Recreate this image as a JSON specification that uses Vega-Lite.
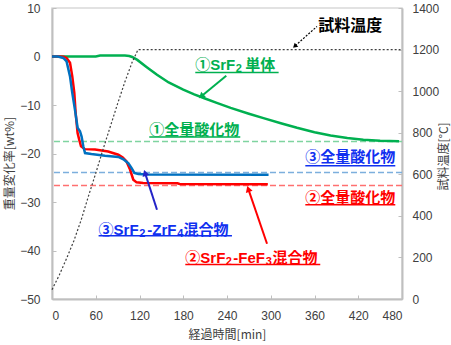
{
"$schema":"https://vega.github.io/schema/vega-lite/v6.json",
"width":350,"height":291,
"autosize":{"type":"none"},
"padding":{"left":52,"top":8,"right":49,"bottom":46},
"config":{
 "font":"Noto Sans CJK JP",
 "view":{"stroke":"#d9d9d9","strokeWidth":1.5},
 "axis":{"grid":false,"domainColor":"#bfbfbf","domainWidth":2,"tickColor":"#bfbfbf","tickWidth":1,"tickSize":-4,"labelFont":"Liberation Sans","labelFontSize":12,"labelColor":"#404040","labelPadding":14,"titleFont":"Noto Sans CJK JP","titleFontSize":12,"titleFontWeight":"normal","titleColor":"#404040"}
},
"datasets":{
 "tg":[
  {"s":"①","t":0,"w":0},{"s":"①","t":30,"w":0},{"s":"①","t":60,"w":0},{"s":"①","t":66,"w":0.2},{"s":"①","t":100,"w":0.2},{"s":"①","t":106,"w":0.1},{"s":"①","t":110,"w":-0.1},{"s":"①","t":117,"w":-0.7},{"s":"①","t":130,"w":-2.2},{"s":"①","t":144,"w":-3.75},{"s":"①","t":160,"w":-5.35},{"s":"①","t":180,"w":-6.85},{"s":"①","t":195,"w":-7.8},{"s":"①","t":208,"w":-8.56},{"s":"①","t":225,"w":-9.5},{"s":"①","t":245,"w":-10.6},{"s":"①","t":270,"w":-11.8},{"s":"①","t":290,"w":-12.7},{"s":"①","t":315,"w":-13.8},{"s":"①","t":336,"w":-14.7},{"s":"①","t":360,"w":-15.6},{"s":"①","t":382,"w":-16.3},{"s":"①","t":405,"w":-16.8},{"s":"①","t":427,"w":-17.15},{"s":"①","t":450,"w":-17.35},{"s":"①","t":476,"w":-17.45},
  {"s":"②","t":0,"w":0},{"s":"②","t":10,"w":0},{"s":"②","t":16,"w":-0.05},{"s":"②","t":20,"w":-0.3},{"s":"②","t":24.7,"w":-1.3},{"s":"②","t":27.8,"w":-4.1},{"s":"②","t":30.6,"w":-7.5},{"s":"②","t":32.4,"w":-11.6},{"s":"②","t":35.1,"w":-15.8},{"s":"②","t":37.4,"w":-17.2},{"s":"②","t":39.8,"w":-18.5},{"s":"②","t":45,"w":-19.1},{"s":"②","t":59,"w":-19.2},{"s":"②","t":77,"w":-19.6},{"s":"②","t":91,"w":-20.25},{"s":"②","t":97,"w":-20.8},{"s":"②","t":102,"w":-21.6},{"s":"②","t":107,"w":-23.3},{"s":"②","t":111.5,"w":-25.4},{"s":"②","t":116,"w":-25.95},{"s":"②","t":125,"w":-26.1},{"s":"②","t":172,"w":-26.15},{"s":"②","t":175,"w":-26.3},{"s":"②","t":296,"w":-26.35},
  {"s":"③","t":0,"w":0},{"s":"③","t":8,"w":0},{"s":"③","t":15.5,"w":-0.3},{"s":"③","t":20,"w":-1.0},{"s":"③","t":24.7,"w":-4.1},{"s":"③","t":27.8,"w":-7.5},{"s":"③","t":31.5,"w":-11},{"s":"③","t":35.1,"w":-14.7},{"s":"③","t":38.4,"w":-15.4},{"s":"③","t":40.6,"w":-16.5},{"s":"③","t":42.9,"w":-18.5},{"s":"③","t":45.3,"w":-19.9},{"s":"③","t":54,"w":-20.1},{"s":"③","t":72.7,"w":-20.45},{"s":"③","t":91,"w":-20.7},{"s":"③","t":98,"w":-21.2},{"s":"③","t":104.6,"w":-22},{"s":"③","t":109.2,"w":-23},{"s":"③","t":112.9,"w":-24},{"s":"③","t":118.4,"w":-24.25},{"s":"③","t":130,"w":-24.35},{"s":"③","t":297,"w":-24.4}
 ],
 "temp":[
  {"t":0,"T":45},{"t":10,"T":115},{"t":20,"T":195},{"t":30,"T":280},{"t":40,"T":380},{"t":50,"T":495},{"t":60,"T":605},{"t":70,"T":720},{"t":80,"T":830},{"t":90,"T":940},{"t":100,"T":1045},{"t":110,"T":1140},{"t":118,"T":1200},{"t":478,"T":1200}
 ],
 "refs":[{"s":"①","w":-17.5},{"s":"②","w":-26.6},{"s":"③","w":-23.9}],
 "ulines":[
  {"s":"①","t":196.5,"t2":310.8,"w":-3.28},
  {"s":"①","t":133.4,"t2":258.2,"w":-16.6},
  {"s":"③","t":347.4,"t2":470.8,"w":-22.5},
  {"s":"②","t":347.4,"t2":470.8,"w":-30.56},
  {"s":"③","t":63.9,"t2":246.8,"w":-36.95},
  {"s":"②","t":182.8,"t2":367.9,"w":-42.9}
 ],
 "texts":[
  {"s":"①","label":"①SrF","t":196.5,"w":-1.69},
  {"s":"①","label":"単体","t":265.1,"w":-1.69},
  {"s":"①","label":"①全量酸化物","t":133.4,"w":-15.1},
  {"s":"③","label":"③全量酸化物","t":347.4,"w":-20.66},
  {"s":"②","label":"②全量酸化物","t":347.4,"w":-29.1},
  {"s":"③","label":"③SrF","t":63.9,"w":-35.7},
  {"s":"③","label":"-ZrF","t":130.7,"w":-35.7},
  {"s":"③","label":"混合物","t":180.5,"w":-35.7},
  {"s":"②","label":"②SrF","t":182.8,"w":-41.55},
  {"s":"②","label":"-FeF","t":248.6,"w":-41.55},
  {"s":"②","label":"混合物","t":302.5,"w":-41.55}
 ],
 "subs":[
  {"s":"①","label":"2","t":252.1,"w":-1.69},
  {"s":"③","label":"2","t":119.7,"w":-35.7},
  {"s":"③","label":"4","t":171.9,"w":-35.7},
  {"s":"②","label":"2","t":238.3,"w":-41.55},
  {"s":"②","label":"3","t":293.3,"w":-41.55}
 ],
 "title":[{"label":"試料温度","t":365.2,"w":6.2}],
 "arrT":[{"t":333.7,"w":2.23,"tt":363.4,"tw":6.2}],
 "arr1":[{"t":205.7,"w":-8.08,"tt":239,"tw":-3.96}],
 "arr3":[{"t":128,"w":-24.2,"tt":144,"tw":-31.6}],
 "arr2":[{"t":269.6,"w":-27.5,"tt":294.9,"tw":-38.6}]
},
"layer":[
 {
  "layer":[
   {"data":{"name":"refs"},"mark":{"type":"rule","strokeDash":[6,3],"strokeWidth":1.5},
    "encoding":{
     "y":{"field":"w","type":"quantitative","title":"重量変化率[wt%]","scale":{"domain":[-50,10],"nice":false,"zero":false},
          "axis":{"values":[-50,-40,-30,-20,-10,0,10],"labelPadding":16,"titleAngle":-90,"titleX":-43,"titleY":155,"titleBaseline":"middle","titleAlign":"center"}},
     "color":{"field":"s","type":"nominal","scale":{"domain":["①","②","③"],"range":["#7fd4a0","#ff7070","#7cafdd"]},"legend":null}
    }},
   {"data":{"name":"tg"},"mark":{"type":"line","strokeWidth":2.5},
    "encoding":{
     "x":{"field":"t","type":"quantitative","title":"経過時間[min]","scale":{"domain":[0,480],"nice":false},
          "axis":{"values":[0,60,120,180,240,300,360,420,480],"labelPadding":15,"titleY":35,"titleBaseline":"middle"}},
     "y":{"field":"w","type":"quantitative","title":"重量変化率[wt%]","scale":{"domain":[-50,10],"nice":false,"zero":false}},
     "color":{"field":"s","type":"nominal","scale":{"domain":["①","②","③"],"range":["#00b050","#ff0000","#0070c0"]},"legend":null}
    }},
   {"data":{"name":"ulines"},"mark":{"type":"rule","strokeWidth":1.5},
    "encoding":{
     "x":{"field":"t","type":"quantitative","title":"経過時間[min]","scale":{"domain":[0,480],"nice":false}},
     "x2":{"field":"t2"},
     "y":{"field":"w","type":"quantitative","title":"重量変化率[wt%]","scale":{"domain":[-50,10],"nice":false,"zero":false}},
     "color":{"field":"s","type":"nominal","scale":{"domain":["①","②","③"],"range":["#00b050","#ff0000","#1030f0"]},"legend":null}
    }},
   {"data":{"name":"texts"},"mark":{"type":"text","align":"left","baseline":"middle","fontSize":15,"fontWeight":"bold","font":"'Liberation Sans', 'Noto Sans CJK JP'"},
    "encoding":{
     "x":{"field":"t","type":"quantitative","title":"経過時間[min]","scale":{"domain":[0,480],"nice":false}},
     "y":{"field":"w","type":"quantitative","title":"重量変化率[wt%]","scale":{"domain":[-50,10],"nice":false,"zero":false}},
     "text":{"field":"label"},
     "color":{"field":"s","type":"nominal","scale":{"domain":["①","②","③"],"range":["#00b050","#ff0000","#1030f0"]},"legend":null}
    }},
   {"data":{"name":"subs"},"mark":{"type":"text","align":"left","baseline":"middle","fontSize":11,"fontWeight":"bold","dy":4,"font":"Liberation Sans"},
    "encoding":{
     "x":{"field":"t","type":"quantitative","title":"経過時間[min]","scale":{"domain":[0,480],"nice":false}},
     "y":{"field":"w","type":"quantitative","title":"重量変化率[wt%]","scale":{"domain":[-50,10],"nice":false,"zero":false}},
     "text":{"field":"label"},
     "color":{"field":"s","type":"nominal","scale":{"domain":["①","②","③"],"range":["#00b050","#ff0000","#1030f0"]},"legend":null}
    }},
   {"data":{"name":"title"},"mark":{"type":"text","align":"left","baseline":"middle","fontSize":16,"fontWeight":"bold","font":"Noto Sans CJK JP","color":"#000000"},
    "encoding":{
     "x":{"field":"t","type":"quantitative","title":"経過時間[min]","scale":{"domain":[0,480],"nice":false}},
     "y":{"field":"w","type":"quantitative","title":"重量変化率[wt%]","scale":{"domain":[-50,10],"nice":false,"zero":false}},
     "text":{"field":"label"}
    }},
   {"data":{"name":"arrT"},"layer":[
     {"mark":{"type":"rule","color":"#000000","strokeDash":[2,1.5],"strokeWidth":1.2},
      "encoding":{"x":{"field":"t","type":"quantitative","title":"経過時間[min]","scale":{"domain":[0,480],"nice":false}},"x2":{"field":"tt"},
                  "y":{"field":"w","type":"quantitative","title":"重量変化率[wt%]","scale":{"domain":[-50,10],"nice":false,"zero":false}},"y2":{"field":"tw"}}},
     {"mark":{"type":"point","shape":"triangle","filled":true,"opacity":1,"color":"#000000","size":28,"angle":228},
      "encoding":{"x":{"field":"t","type":"quantitative","title":"経過時間[min]","scale":{"domain":[0,480],"nice":false}},
                  "y":{"field":"w","type":"quantitative","title":"重量変化率[wt%]","scale":{"domain":[-50,10],"nice":false,"zero":false}}}}
   ]},
   {"data":{"name":"arr1"},"layer":[
     {"mark":{"type":"rule","color":"#00b050","strokeWidth":2},
      "encoding":{"x":{"field":"t","type":"quantitative","title":"経過時間[min]","scale":{"domain":[0,480],"nice":false}},"x2":{"field":"tt"},
                  "y":{"field":"w","type":"quantitative","title":"重量変化率[wt%]","scale":{"domain":[-50,10],"nice":false,"zero":false}},"y2":{"field":"tw"}}},
     {"mark":{"type":"point","shape":"triangle","filled":true,"opacity":1,"color":"#00b050","size":50,"angle":229},
      "encoding":{"x":{"field":"t","type":"quantitative","title":"経過時間[min]","scale":{"domain":[0,480],"nice":false}},
                  "y":{"field":"w","type":"quantitative","title":"重量変化率[wt%]","scale":{"domain":[-50,10],"nice":false,"zero":false}}}}
   ]},
   {"data":{"name":"arr3"},"layer":[
     {"mark":{"type":"rule","color":"#2424c8","strokeWidth":2},
      "encoding":{"x":{"field":"t","type":"quantitative","title":"経過時間[min]","scale":{"domain":[0,480],"nice":false}},"x2":{"field":"tt"},
                  "y":{"field":"w","type":"quantitative","title":"重量変化率[wt%]","scale":{"domain":[-50,10],"nice":false,"zero":false}},"y2":{"field":"tw"}}},
     {"mark":{"type":"point","shape":"triangle","filled":true,"opacity":1,"color":"#2424c8","size":50,"angle":342},
      "encoding":{"x":{"field":"t","type":"quantitative","title":"経過時間[min]","scale":{"domain":[0,480],"nice":false}},
                  "y":{"field":"w","type":"quantitative","title":"重量変化率[wt%]","scale":{"domain":[-50,10],"nice":false,"zero":false}}}}
   ]},
   {"data":{"name":"arr2"},"layer":[
     {"mark":{"type":"rule","color":"#ff0000","strokeWidth":2},
      "encoding":{"x":{"field":"t","type":"quantitative","title":"経過時間[min]","scale":{"domain":[0,480],"nice":false}},"x2":{"field":"tt"},
                  "y":{"field":"w","type":"quantitative","title":"重量変化率[wt%]","scale":{"domain":[-50,10],"nice":false,"zero":false}},"y2":{"field":"tw"}}},
     {"mark":{"type":"point","shape":"triangle","filled":true,"opacity":1,"color":"#ff0000","size":50,"angle":341},
      "encoding":{"x":{"field":"t","type":"quantitative","title":"経過時間[min]","scale":{"domain":[0,480],"nice":false}},
                  "y":{"field":"w","type":"quantitative","title":"重量変化率[wt%]","scale":{"domain":[-50,10],"nice":false,"zero":false}}}}
   ]}
  ],
  "resolve":{"scale":{"color":"independent"}}
 },
 {"data":{"name":"temp"},"mark":{"type":"line","color":"#404040","strokeDash":[2,2],"strokeWidth":1.2},
  "encoding":{
   "x":{"field":"t","type":"quantitative","title":"経過時間[min]","scale":{"domain":[0,480],"nice":false}},
   "y":{"field":"T","type":"quantitative","title":"試料温度[°C]","scale":{"domain":[0,1400],"nice":false,"zero":false},
        "axis":{"orient":"right","values":[0,200,400,600,800,1000,1200,1400],"format":"d","labelPadding":14,"titleAngle":-90,"titleX":41,"titleY":148,"titleBaseline":"middle","titleAlign":"center"}}
  }}
],
"resolve":{"scale":{"y":"independent"}}
}
